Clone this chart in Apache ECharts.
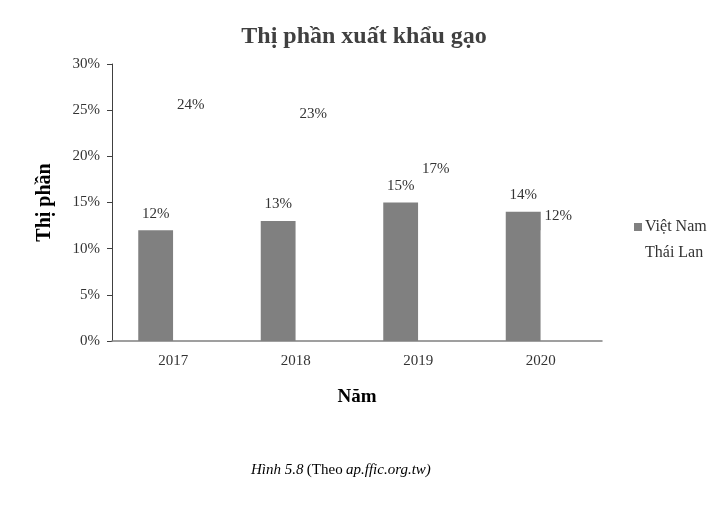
<!DOCTYPE html>
<html>
<head>
<meta charset="utf-8">
<script src="https://cdn.jsdelivr.net/npm/echarts@6/dist/echarts.min.js"></script>
<style>
html, body { margin: 0; padding: 0; background: #fff; }
#main { width: 728px; height: 513px; }
</style>
</head>
<body>
<div id="main"></div>
<script>
// du lieu
var years = ['2017', '2018', '2019', '2020'];
var vietNam = [12, 13, 15, 14];
var thaiLan = [24, 23, 17, 12];
var yTicks = [0, 5, 10, 15, 20, 25, 30];

var font = 'Liberation Serif';
var chart = echarts.init(document.getElementById('main'));

var option = {
	backgroundColor: '#fff',
	animation: false,
	textStyle: { fontFamily: font },
	title: {
		text: 'Thị phần xuất khẩu gạo',
		left: 'center',
		top: 20,
		textStyle: { fontFamily: font, fontSize: 24, fontWeight: 'bold', color: '#404040' }
	},
	legend: {
		orient: 'vertical',
		left: 629,
		top: 214,
		itemWidth: 8,
		itemHeight: 8,
		itemGap: 10,
		icon: 'rect',
		textStyle: { fontFamily: font, fontSize: 16, color: '#333', padding: [0, 0, 0, -2] },
		data: ['Việt Nam', 'Thái Lan']
	},
	grid: { left: 112, right: 126, top: 64, bottom: 172 },
	xAxis: {
		type: 'category',
		data: years,
		z: 5,
		name: 'Năm',
		nameLocation: 'middle',
		nameGap: 47,
		nameTextStyle: { fontFamily: font, fontSize: 19, fontWeight: 'bold', color: '#000' },
		axisLine: { lineStyle: { color: '#808080', width: 1.5 } },
		axisTick: { show: false },
		axisLabel: { fontFamily: font, fontSize: 15, color: '#333', margin: 13 }
	},
	yAxis: {
		type: 'value',
		min: 0,
		max: 30,
		interval: 5,
		name: 'Thị phần',
		nameLocation: 'middle',
		nameGap: 57,
		nameTextStyle: { fontFamily: font, fontSize: 20, fontWeight: 'bold', color: '#000' },
		splitLine: { show: false },
		axisLine: { show: true, lineStyle: { color: '#404040', width: 1 } },
		axisTick: { show: true, length: 5, lineStyle: { color: '#404040' } },
		axisLabel: {
			fontFamily: font, fontSize: 15, color: '#333', margin: 12,
			formatter: function(v) { return yTicks.indexOf(v) >= 0 ? v + '%' : ''; }
		}
	},
	series: [{
		name: 'Việt Nam',
		type: 'bar',
		data: vietNam,
		barWidth: 35,
		barGap: '0%',
		itemStyle: { color: '#808080' },
		label: { show: true, position: 'top', distance: 9, formatter: '{c}%', fontFamily: font, fontSize: 15, color: '#333' }
	}, {
		name: 'Thái Lan',
		type: 'bar',
		data: thaiLan,
		barWidth: 35,
		itemStyle: { color: '#ffffff' },
		label: { show: true, position: 'top', distance: 7, formatter: '{c}%', fontFamily: font, fontSize: 15, color: '#333' }
	}],
	graphic: [{
		type: 'text',
		left: 251,
		top: 463,
		style: {
			text: '{i|Hình 5.8} {n|(Theo} {i|ap.ffic.org.tw)}',
			rich: {
				i: { fontFamily: font, fontSize: 15, fontStyle: 'italic', fill: '#000' },
				n: { fontFamily: font, fontSize: 15, fill: '#000' }
			}
		}
	}]
};

chart.setOption(option);
</script>
</body>
</html>
